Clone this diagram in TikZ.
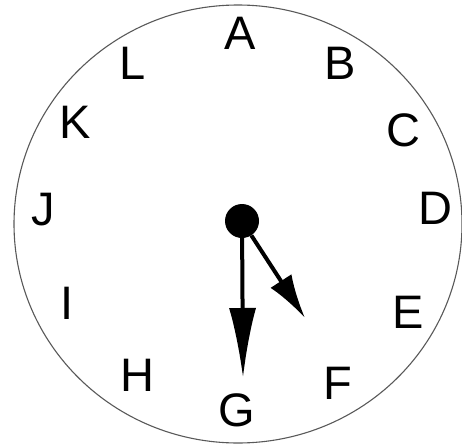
\documentclass[tikz,border=0pt]{standalone}
\usepackage{fontspec}
\setmainfont{Liberation Sans}
\usetikzlibrary{arrows.meta}
\tikzset{
  dial/.style={draw, line width=1.1pt, gray!70!black},
  letter/.style={font=\fontsize{47}{47}\selectfont, inner sep=0pt},
  hub/.style={circle, fill, minimum size=34pt, inner sep=0pt},
  longhand/.style={-{Latex[length=70pt,width=27pt]}, line width=4pt},
  shorthand/.style={-{Latex[length=44pt,width=25pt]}, line width=4pt},
}
\begin{document}
\begin{tikzpicture}[x=1pt, y=-1pt]
  \useasboundingbox (0,0) rectangle (462,444);
  \draw[dial] (238,224) ellipse [x radius=224, y radius=219];

  % letters round the dial
  \foreach \name/\px/\py in {A/240/33, B/340/63, C/403/130, D/435/208,
                             E/408/312, F/338/383, G/237/410, H/137/375,
                             I/67/303, J/43/210, K/75/122, L/133/63}
    \node[letter] (mark\name) at (\px,\py) {\name};

  \node[hub] (center) at (242,221) {};
  \coordinate (longtip) at (243,378);
  \coordinate (shorttip) at (305,318);

  \draw[longhand] (center) -- (longtip);
  \draw[shorthand] (center) -- (shorttip);
\end{tikzpicture}
\end{document}
